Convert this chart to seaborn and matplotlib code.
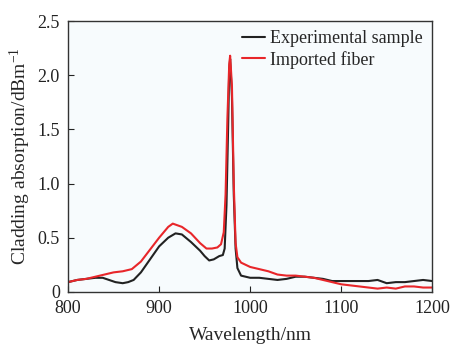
import numpy as np
import pandas as pd
import matplotlib
matplotlib.use("Agg")
import matplotlib.pyplot as plt
import seaborn as sns

# wavelength (nm) and absorption (dB/m)
wl_exp = [800, 810, 820, 830, 838, 845, 852, 860, 866, 872, 880, 890, 900, 910, 918,
          925, 935, 945, 950, 955, 960, 966, 970, 972, 974, 976, 977, 978, 980, 982, 984,
          986, 990, 1000, 1010, 1020, 1030, 1040, 1050, 1060, 1070, 1080, 1090,
          1100, 1110, 1120, 1130, 1140, 1150, 1160, 1170, 1180, 1190, 1200]
ab_exp = [0.09, 0.11, 0.12, 0.13, 0.13, 0.11, 0.09, 0.08, 0.09, 0.11, 0.18, 0.30, 0.42,
          0.50, 0.54, 0.53, 0.46, 0.38, 0.33, 0.29, 0.30, 0.33, 0.34, 0.40, 0.80,
          1.60, 2.05, 2.15, 1.80, 0.90, 0.40, 0.22, 0.15, 0.13, 0.13, 0.12, 0.11, 0.12,
          0.14, 0.14, 0.13, 0.12, 0.10, 0.10, 0.10, 0.10, 0.10, 0.11, 0.08, 0.09,
          0.09, 0.10, 0.11, 0.10]

wl_imp = [800, 810, 820, 830, 840, 850, 860, 870, 880, 890, 900, 910, 915, 925, 935,
          945, 952, 958, 964, 968, 971, 973, 975, 977, 978, 980, 982, 984, 986, 990,
          1000, 1010, 1020, 1030, 1040, 1050, 1060, 1070, 1080, 1090, 1100, 1110,
          1120, 1130, 1140, 1150, 1160, 1170, 1180, 1190, 1200]
ab_imp = [0.09, 0.11, 0.12, 0.14, 0.16, 0.18, 0.19, 0.21, 0.28, 0.39, 0.50, 0.60,
          0.63, 0.60, 0.54, 0.45, 0.40, 0.40, 0.41, 0.44, 0.55, 0.90, 1.60, 2.10,
          2.18, 1.90, 1.00, 0.45, 0.32, 0.27, 0.23, 0.21, 0.19, 0.16, 0.15, 0.15,
          0.14, 0.13, 0.11, 0.09, 0.07, 0.06, 0.05, 0.04, 0.03, 0.04, 0.03, 0.05,
          0.05, 0.04, 0.04]

labels = ["Experimental sample", "Imported fiber"]

df = pd.concat([
    pd.DataFrame({"Wavelength": wl_exp, "Absorption": ab_exp, "Sample": labels[0]}),
    pd.DataFrame({"Wavelength": wl_imp, "Absorption": ab_imp, "Sample": labels[1]}),
])

sns.set_style("ticks")
plt.rcParams["font.family"] = ["Liberation Serif", "DejaVu Serif"]
plt.rcParams["mathtext.fontset"] = "custom"
plt.rcParams["mathtext.rm"] = "Liberation Serif"
plt.rcParams["mathtext.default"] = "regular"

fig = plt.figure(figsize=(4.54, 3.45), dpi=100)
ax = fig.add_axes([0.150, 0.154, 0.802, 0.785])
ax.set_facecolor("#f7fbfd")

sns.lineplot(data=df, x="Wavelength", y="Absorption", hue="Sample",
             palette={labels[0]: "#222222", labels[1]: "#e8262a"},
             linewidth=1.5, ax=ax)

ax.set_xlim(800, 1200)
ax.set_ylim(0, 2.5)
ax.set_xticks([800, 900, 1000, 1100, 1200])
ax.set_yticks([0, 0.5, 1.0, 1.5, 2.0, 2.5])
ax.set_yticklabels(["0", "0.5", "1.0", "1.5", "2.0", "2.5"])
ax.tick_params(direction="in", length=4, labelsize=13, colors="#222222")
ax.tick_params(axis="x", pad=6)
ax.tick_params(axis="y", pad=6)
for s in ax.spines.values():
    s.set_color("#333333")
    s.set_linewidth(1.0)

ax.set_xlabel("Wavelength/nm", fontsize=14, labelpad=7)
ax.set_ylabel("Cladding absorption/dBm$^{-1}$", fontsize=14, labelpad=3)

ax.legend(title=None, frameon=False, loc="upper right", fontsize=13,
          handlelength=1.3, handletextpad=0.3, borderaxespad=0.1,
          labelspacing=0.2)

fig.savefig("out.png", dpi=100)
